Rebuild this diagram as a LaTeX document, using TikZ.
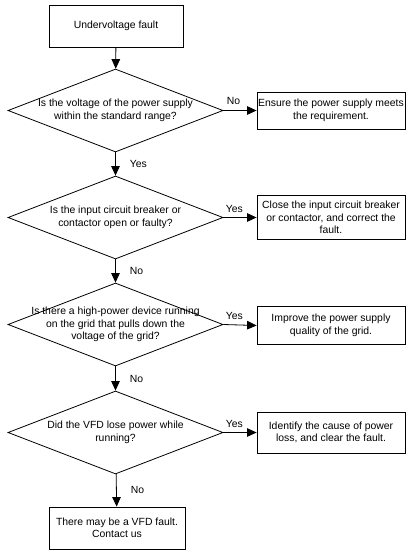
\documentclass[tikz,border=0pt]{standalone}
\usepackage{fontspec}
\setmainfont{Liberation Sans}
\usetikzlibrary{shapes.geometric,arrows.meta}

\begin{document}
\begin{tikzpicture}[x=1pt, y=-1pt, line width=0.8pt,
	font=\fontsize{10.4}{12.4}\selectfont,
	process/.style={draw, rectangle, align=center, inner sep=1pt, minimum width=148pt, minimum height=38pt},
	decision/.style={draw, diamond, minimum width=215pt, minimum height=83pt, inner sep=0pt},
	question/.style={align=center, inner sep=0pt},
	flow/.style={-{Triangle[length=9.5pt,width=8.5pt]}},
	answer/.style={inner sep=0pt}]
			\useasboundingbox (0,0) rectangle (406,551);
			
			%Start
			\node[process, minimum width=134pt, minimum height=42pt] (start) at (116,26) {Undervoltage fault};
			
			%Question 1
			\node[decision] (q1) at (115.5,110.5) {};
			\node[question] (q1text) at (q1) {Is the voltage of the power supply\\within the standard range?};
			\node[process, minimum height=37pt] (a1) at (331,110.5) {Ensure the power supply meets\\the requirement.};
			
			%Question 2
			\node[decision] (q2) at (115.5,217.5) {};
			\node[question] (q2text) at (q2) {Is the input circuit breaker or\\contactor open or faulty?};
			\node[process, minimum height=44pt] (a2) at (331,217.5) {Close the input circuit breaker\\or contactor, and correct the\\fault.};
			
			%Question 3
			\node[decision] (q3) at (115.5,324.5) {};
			\node[question] (q3text) at (q3) {Is there a high-power device running\\on the grid that pulls down the\\voltage of the grid?};
			\node[process] (a3) at (331,325.5) {Improve the power supply\\quality of the grid.};
			
			%Question 4
			\node[decision] (q4) at (115.5,432.5) {};
			\node[question] (q4text) at (q4) {Did the VFD lose power while\\running?};
			\node[process, minimum height=41pt] (a4) at (331,432.5) {Identify the cause of power\\loss, and clear the fault.};
			
			%End
			\node[process, minimum width=136pt, minimum height=42pt] (stop) at (117,528) {There may be a VFD fault.\\Contact us};
			
			%Down the main line
			\draw[flow] (start) -- (q1);
			\draw[flow] (q1) -- node[answer, anchor=west, xshift=14pt] {Yes} (q2);
			\draw[flow] (q2) -- node[answer, anchor=west, xshift=14pt] {No} (q3);
			\draw[flow] (q3) -- node[answer, anchor=west, xshift=14pt] {No} (q4);
			\draw[flow] (q4) -- node[answer, anchor=west, xshift=14pt] {No} (stop);
			
			%Out to the remedies
			\draw[flow] (q1.east) -- node[pos=0, answer, anchor=south west, xshift=3pt, yshift=5pt] {No} (a1.west);
			\draw[flow] (q2.east) -- node[pos=0, answer, anchor=south west, xshift=2pt, yshift=5pt] {Yes} (a2.west);
			\draw[flow] (q3.east) -- node[pos=0, answer, anchor=south west, xshift=2pt, yshift=5pt] {Yes} (a3.west);
			\draw[flow] (q4.east) -- node[pos=0, answer, anchor=south west, xshift=2pt, yshift=5pt] {Yes} (a4.west);
\end{tikzpicture}
\end{document}
